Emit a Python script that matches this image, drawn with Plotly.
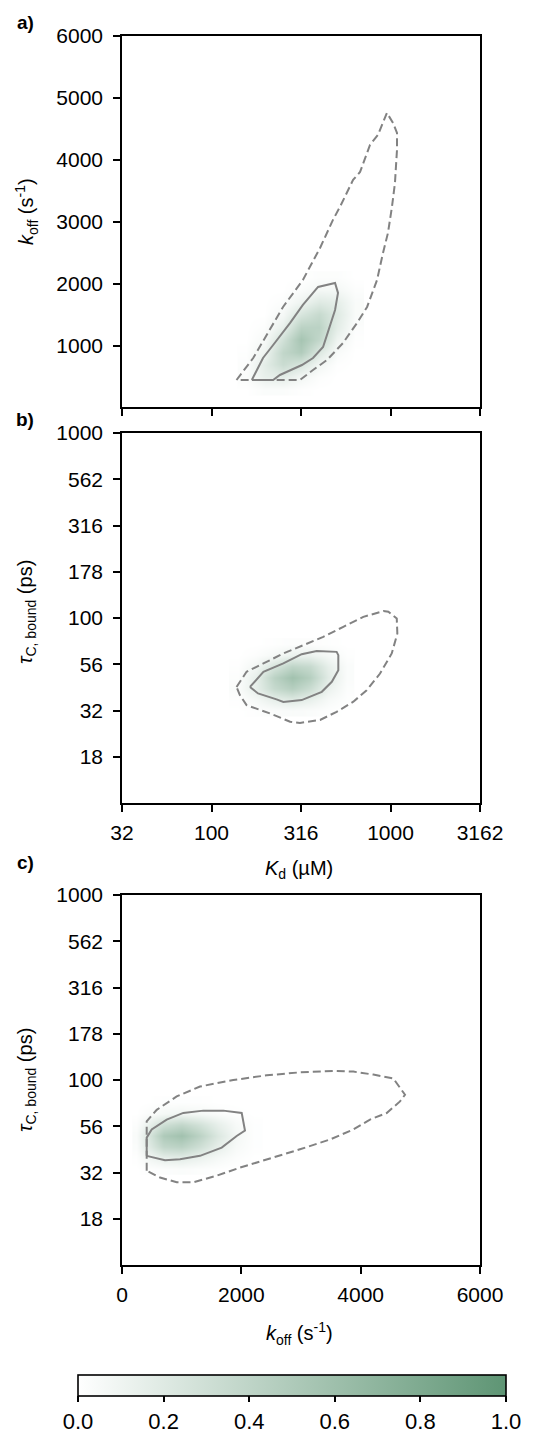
import plotly.graph_objects as go

# ---------------- data ----------------
# Panel a: Kd (uM) vs koff (s^-1)
a_outer_kd = [138, 171, 251, 324, 404, 477, 522, 618, 676, 768, 851, 955, 1033, 1087, 1087, 1059,
              1019, 968, 908, 841, 740, 650, 543, 442, 369, 312, 144]
a_outer_koff = [446, 801, 1625, 2061, 2578, 3031, 3241, 3677, 3805, 4242, 4403, 4759, 4597, 4436,
                4161, 3628, 3241, 2821, 2498, 2061, 1625, 1367, 1044, 769, 607, 446, 446]
a_inner_kd = [168, 194, 221, 275, 324, 394, 490, 509, 490, 420, 369, 320, 241, 221]
a_inner_koff = [446, 801, 1011, 1367, 1658, 1948, 2013, 1852, 1577, 979, 801, 688, 527, 446]

# Panel b: Kd (uM) vs tau_C,bound (ps)
b_outer_kd = [138, 157, 195, 252, 326, 421, 545, 705, 912, 973, 1084, 1092, 1016, 874, 736, 620,
              500, 404, 312, 275, 212, 179, 157, 144]
b_outer_tau = [42.4, 51.2, 56.8, 64.3, 71.3, 79.1, 89.6, 101.4, 109, 108, 99.3, 82.4, 64.3, 50.1,
               40.7, 35.3, 31.1, 28.1, 27.1, 27.5, 30.5, 32.4, 33.8, 38.3]
b_inner_kd = [164, 195, 252, 319, 387, 500, 511, 511, 470, 413, 319, 252, 231, 182]
b_inner_tau = [42.4, 51.2, 56.8, 63.7, 66.4, 65.6, 63.0, 52.2, 45.2, 39.9, 36.0, 35.2, 36.3, 39.1]

# Panel c: koff (s^-1) vs tau_C,bound (ps)
c_outer_koff = [414, 414, 582, 917, 1307, 1865, 2425, 2983, 3541, 3877, 4212, 4547, 4743, 4659,
                4436, 4156, 3877, 3486, 2983, 2425, 1978, 1587, 1195, 917, 637]
c_outer_tau = [32.3, 59.8, 69.0, 81.5, 92.2, 100, 106, 110, 112, 111, 107, 102, 83.2, 76.6, 66.3,
               61.1, 54.0, 47.7, 42.2, 37.3, 33.6, 30.4, 28.0, 28.0, 29.7]
c_inner_koff = [414, 414, 498, 749, 1027, 1363, 1698, 2006, 2061, 1922, 1671, 1307, 972, 721]
c_inner_tau = [38.9, 48.8, 54.0, 61.1, 66.4, 68.3, 68.3, 66.4, 53.3, 49.8, 43.1, 38.9, 37.3, 36.8]

# Density grids (normalised, estimated by eye)
a_heat_kd = [158, 200, 251, 316, 398, 501, 631]
a_heat_koff = [300, 500, 700, 900, 1100, 1300, 1500, 1700, 1900, 2100]
a_heat_z = [
    [0.00, 0.03, 0.03, 0.01, 0.00, 0.00, 0.00],
    [0.03, 0.14, 0.17, 0.08, 0.02, 0.00, 0.00],
    [0.02, 0.17, 0.33, 0.24, 0.08, 0.01, 0.00],
    [0.01, 0.10, 0.38, 0.48, 0.21, 0.04, 0.00],
    [0.00, 0.05, 0.28, 0.55, 0.38, 0.10, 0.01],
    [0.00, 0.02, 0.14, 0.42, 0.42, 0.17, 0.02],
    [0.00, 0.00, 0.06, 0.24, 0.35, 0.20, 0.04],
    [0.00, 0.00, 0.02, 0.10, 0.20, 0.16, 0.04],
    [0.00, 0.00, 0.00, 0.03, 0.07, 0.07, 0.02],
    [0.00, 0.00, 0.00, 0.00, 0.02, 0.02, 0.00],
]
b_heat_kd = [141, 178, 224, 282, 355, 447, 562]
b_heat_tau = [31.6, 36.3, 41.7, 47.9, 55.0, 63.1, 72.4]
b_heat_z = [
    [0.00, 0.01, 0.03, 0.04, 0.03, 0.01, 0.00],
    [0.01, 0.06, 0.15, 0.20, 0.14, 0.05, 0.01],
    [0.03, 0.15, 0.35, 0.45, 0.32, 0.12, 0.02],
    [0.02, 0.15, 0.42, 0.58, 0.45, 0.18, 0.03],
    [0.01, 0.08, 0.25, 0.40, 0.35, 0.15, 0.03],
    [0.00, 0.02, 0.06, 0.12, 0.12, 0.06, 0.01],
    [0.00, 0.00, 0.01, 0.02, 0.02, 0.01, 0.00],
]
c_heat_koff = [250, 400, 700, 1000, 1300, 1600, 1900, 2200]
c_heat_tau = [33.1, 38.0, 43.7, 50.1, 57.5, 66.1, 75.9]
c_heat_z = [
    [0.00, 0.01, 0.02, 0.03, 0.02, 0.01, 0.00, 0.00],
    [0.01, 0.06, 0.15, 0.17, 0.12, 0.06, 0.02, 0.00],
    [0.03, 0.15, 0.38, 0.42, 0.30, 0.15, 0.05, 0.01],
    [0.04, 0.18, 0.50, 0.58, 0.42, 0.22, 0.07, 0.01],
    [0.02, 0.10, 0.30, 0.38, 0.28, 0.15, 0.05, 0.01],
    [0.00, 0.02, 0.06, 0.08, 0.06, 0.03, 0.01, 0.00],
    [0.00, 0.00, 0.01, 0.01, 0.01, 0.00, 0.00, 0.00],
]

kd_tickvals = [31.62, 100, 316.2, 1000, 3162]
kd_ticktext = ["32", "100", "316", "1000", "3162"]
tau_tickvals = [17.78, 31.62, 56.23, 100, 177.8, 316.2, 562.3, 1000]
tau_ticktext = ["18", "32", "56", "100", "178", "316", "562", "1000"]
koff_ticks_a = [1000, 2000, 3000, 4000, 5000, 6000]
koff_ticks_c = [0, 2000, 4000, 6000]
cbar_ticks = [0.0, 0.2, 0.4, 0.6, 0.8, 1.0]

# ---------------- styling ----------------
W, H = 544, 1436
FONT = "Liberation Sans, Arial, sans-serif"
GREEN_SCALE = [[0.0, "#ffffff"], [1.0, "#5e9574"]]
LINE_GRAY = "#828282"


def closed(xs, ys):
    return list(xs) + [xs[0]], list(ys) + [ys[0]]


def px(x):
    return x / W


def py(y):
    return 1 - y / H


fig = go.Figure()

panels = [
    ("x", "y", a_heat_kd, a_heat_koff, a_heat_z, a_outer_kd, a_outer_koff, a_inner_kd, a_inner_koff, True),
    ("x2", "y2", b_heat_kd, b_heat_tau, b_heat_z, b_outer_kd, b_outer_tau, b_inner_kd, b_inner_tau, False),
    ("x3", "y3", c_heat_koff, c_heat_tau, c_heat_z, c_outer_koff, c_outer_tau, c_inner_koff, c_inner_tau, False),
]

for xa, ya, hx, hy, hz, ox, oy, ix, iy, show in panels:
    fig.add_trace(go.Heatmap(
        x=hx, y=hy, z=hz, xaxis=xa, yaxis=ya, zmin=0, zmax=1,
        colorscale=GREEN_SCALE, zsmooth="best", showscale=show, hoverinfo="skip",
        colorbar=dict(
            orientation="h", x=px(292), xanchor="center", y=py(1405), yanchor="middle",
            len=428 / W, lenmode="fraction", thickness=21, xpad=0, ypad=0,
            outlinewidth=1.6, outlinecolor="black",
            ticks="outside", ticklen=6, tickwidth=1.6, tickcolor="black",
            tickvals=cbar_ticks, ticktext=["%.1f" % v for v in cbar_ticks],
            tickfont=dict(family=FONT, size=22, color="black"),
        ) if show else None,
    ))
    xo, yo = closed(ox, oy)
    fig.add_trace(go.Scatter(x=xo, y=yo, xaxis=xa, yaxis=ya, mode="lines",
                             line=dict(color=LINE_GRAY, width=2, dash="8px,4px"),
                             showlegend=False, hoverinfo="skip"))
    xi, yi = closed(ix, iy)
    fig.add_trace(go.Scatter(x=xi, y=yi, xaxis=xa, yaxis=ya, mode="lines",
                             line=dict(color=LINE_GRAY, width=2),
                             showlegend=False, hoverinfo="skip"))

axis_common = dict(showline=True, linecolor="black", linewidth=1.6, mirror=True,
                   ticks="outside", ticklen=7, tickwidth=1.6, tickcolor="black",
                   showgrid=False, zeroline=False, automargin=False,
                   tickfont=dict(family=FONT, size=21, color="black"))

xdom = [px(122), px(480)]
fig.update_layout(
    width=W, height=H, margin=dict(l=0, r=0, t=0, b=0, pad=0, autoexpand=False),
    paper_bgcolor="white", plot_bgcolor="white", showlegend=False,
    xaxis=dict(domain=xdom, anchor="y", type="log", range=[1.5, 3.5],
               tickvals=kd_tickvals, showticklabels=False, **axis_common),
    yaxis=dict(domain=[py(407), py(36)], anchor="x", range=[10, 6000],
               tickvals=koff_ticks_a, ticklabelstandoff=6, **axis_common),
    xaxis2=dict(domain=xdom, anchor="y2", type="log", range=[1.5, 3.5],
                tickvals=kd_tickvals, ticktext=kd_ticktext, ticklabelstandoff=3, **axis_common),
    yaxis2=dict(domain=[py(803), py(433)], anchor="x2", type="log", range=[1, 3],
                tickvals=tau_tickvals, ticktext=tau_ticktext, ticklabelstandoff=6, **axis_common),
    xaxis3=dict(domain=xdom, anchor="y3", range=[0, 6000],
                tickvals=koff_ticks_c, ticklabelstandoff=3, **axis_common),
    yaxis3=dict(domain=[py(1265), py(895)], anchor="x3", type="log", range=[1, 3],
                tickvals=tau_tickvals, ticktext=tau_ticktext, ticklabelstandoff=6, **axis_common),
)

koff_label = "<i>k</i><sub>off</sub> (s<sup>-1</sup>)"
tau_label = "<i>τ</i><sub>C, bound</sub> (ps)"
kd_label = "<i>K</i><sub>d</sub> (µM)"

annots = [
    dict(text="<b>a)</b>", x=px(25), y=py(23), size=19, angle=0),
    dict(text="<b>b)</b>", x=px(25), y=py(419), size=19, angle=0),
    dict(text="<b>c)</b>", x=px(25), y=py(862), size=19, angle=0),
    dict(text=koff_label, x=px(26), y=py(212), size=20, angle=-90),
    dict(text=tau_label, x=px(26), y=py(612), size=20, angle=-90),
    dict(text=tau_label, x=px(26), y=py(1080), size=20, angle=-90),
    dict(text=kd_label, x=px(299), y=py(869), size=20, angle=0),
    dict(text=koff_label, x=px(299), y=py(1333), size=20, angle=0),
]
for a in annots:
    fig.add_annotation(text=a["text"], x=a["x"], y=a["y"], xref="paper", yref="paper",
                       xanchor="center", yanchor="middle", showarrow=False,
                       textangle=a["angle"],
                       font=dict(family=FONT, size=a["size"], color="black"))

fig.write_html("out.html", config={"displayModeBar": False},
               post_script="document.body.style.margin='0';document.body.style.overflow='hidden';")
